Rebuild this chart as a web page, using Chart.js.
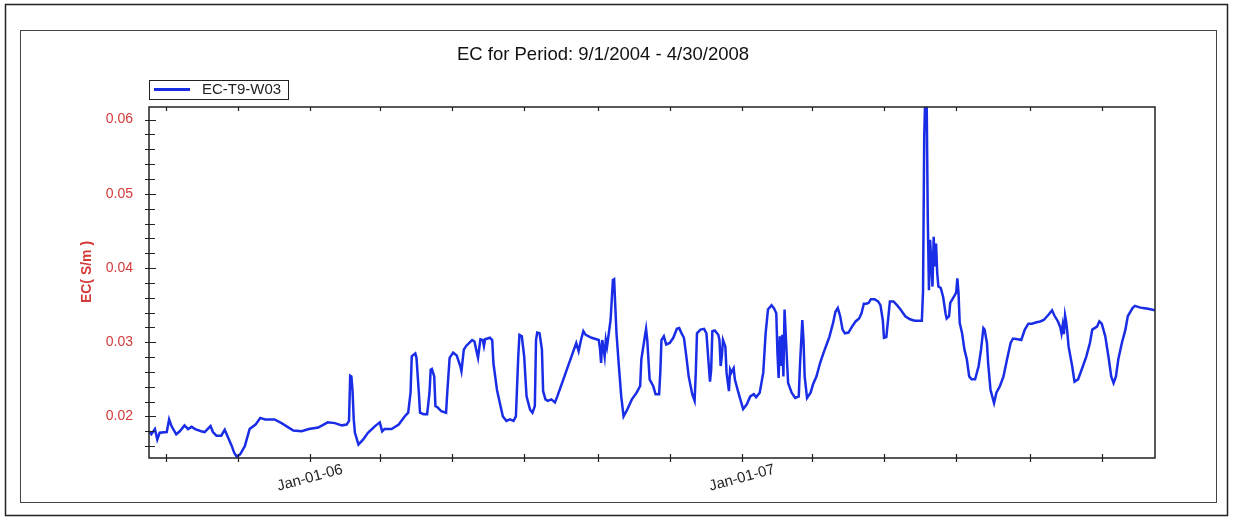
<!DOCTYPE html>
<html>
<head>
<meta charset="utf-8">
<script src="https://cdn.jsdelivr.net/npm/chart.js@4.4.0/dist/chart.umd.min.js"></script>
<style>
html, body { margin: 0; padding: 0; background: #fff; }
#wrap { width: 1233px; height: 520px; position: relative; }
</style>
</head>
<body>
<div id="wrap"><canvas id="ecChart"></canvas></div>
<script>
// days are counted from Jan-01-06
const days = [
  -136, -134, -131, -129, -127, -121, -119, -117, -113, -110, -106, -103, -100, -97, -92, -89,
  -84, -82, -79, -75, -72, -69, -66, -64, -62, -59, -55, -51, -46, -42, -38, -30, -24, -18,
  -14, -7, -1, 7, 15, 21, 27, 31, 33, 34, 35, 36, 37, 38, 41, 45, 49, 55, 59, 61, 63, 69, 75, 80,
  83, 85, 86, 89, 90, 92, 93, 96, 99, 101, 102, 103, 105, 106, 108, 111, 115, 116, 118, 121,
  124, 127, 128, 130, 132, 137, 139, 141, 142, 144, 146, 147, 148, 152, 154, 155, 158, 161,
  163, 166, 169, 172, 174, 176, 177, 179, 181, 183, 186, 188, 190, 191, 192, 194, 196, 197,
  199, 201, 204, 207, 209, 213, 217, 221, 225, 227, 229, 231, 233, 238, 244, 245, 246, 247,
  249, 250, 251, 252, 254, 255, 256, 257, 258, 259, 261, 263, 265, 268, 272, 276, 279, 280,
  283, 284, 285, 287, 290, 292, 295, 296, 297, 299, 301, 304, 307, 310, 312, 314, 316, 318,
  320, 323, 325, 326, 327, 330, 333, 335, 337, 338, 339, 340, 342, 345, 346, 347, 348, 349,
  351, 352, 354, 355, 356, 358, 359, 362, 366, 369, 372, 375, 377, 380, 383, 385, 387, 390,
  392, 394, 395, 396, 397, 398, 399, 400, 401, 403, 404, 407, 410, 413, 414, 416, 417, 418,
  420, 423, 425, 428, 431, 434, 437, 439, 442, 444, 446, 448, 450, 452, 455, 458, 461, 464,
  466, 468, 470, 472, 474, 477, 480, 482, 484, 485, 487, 489, 490, 493, 496, 499, 503, 507,
  511, 517, 518, 519, 520, 521, 522, 523, 524, 525, 526, 527, 528, 529, 530, 531, 533, 535,
  537, 538, 540, 541, 544, 546, 547, 548, 549, 551, 553, 555, 557, 559, 562, 565, 567, 569,
  570, 572, 573, 575, 578, 580, 583, 586, 589, 592, 594, 598, 601, 604, 607, 610, 614, 617,
  620, 624, 627, 629, 632, 634, 635, 636, 637, 638, 639, 640, 641, 644, 646, 649, 652, 656,
  659, 661, 665, 667, 669, 672, 675, 677, 679, 681, 683, 686, 689, 691, 695, 697, 701, 704,
  708, 711, 714
];
const ec = [
  0.0180, 0.0176, 0.0183, 0.0169, 0.0178, 0.0179, 0.0196, 0.0187, 0.0176, 0.0180, 0.0188, 0.0183, 0.0186, 0.0183, 0.0180, 0.0179,
  0.0187, 0.0179, 0.0174, 0.0174, 0.0182, 0.0171, 0.0160, 0.0151, 0.0146, 0.0149, 0.0160, 0.0183, 0.0189, 0.0198, 0.0196, 0.0196, 0.0191, 0.0185,
  0.0181, 0.0180, 0.0183, 0.0185, 0.0192, 0.0191, 0.0188, 0.0189, 0.0194, 0.0255, 0.0254, 0.0234, 0.0196, 0.0178, 0.0162, 0.0169, 0.0178, 0.0187, 0.0192, 0.0180, 0.0183, 0.0183, 0.0189, 0.0200,
  0.0205, 0.0232, 0.0281, 0.0285, 0.0279, 0.0232, 0.0205, 0.0203, 0.0203, 0.0232, 0.0263, 0.0264, 0.0254, 0.0214, 0.0212, 0.0207, 0.0205, 0.0232, 0.0279, 0.0286,
  0.0282, 0.0268, 0.0261, 0.0290, 0.0295, 0.0303, 0.0301, 0.0286, 0.0279, 0.0304, 0.0303, 0.0295, 0.0304, 0.0306, 0.0303, 0.0272, 0.0236, 0.0214,
  0.0200, 0.0194, 0.0196, 0.0194, 0.0200, 0.0281, 0.0310, 0.0308, 0.0281, 0.0227, 0.0209, 0.0205, 0.0214, 0.0303, 0.0313, 0.0312, 0.0290, 0.0234,
  0.0223, 0.0221, 0.0223, 0.0219, 0.0227, 0.0245, 0.0263, 0.0281, 0.0299, 0.0288, 0.0303, 0.0315, 0.0310, 0.0306, 0.0303, 0.0292, 0.0272, 0.0303,
  0.0281, 0.0303, 0.0294, 0.0306, 0.0330, 0.0357, 0.0384, 0.0385, 0.0348, 0.0312, 0.0268, 0.0227, 0.0200, 0.0209, 0.0223, 0.0232, 0.0241, 0.0277,
  0.0308, 0.0318, 0.0303, 0.0250, 0.0241, 0.0230, 0.0230, 0.0259, 0.0303, 0.0308, 0.0297, 0.0299, 0.0306, 0.0318, 0.0319, 0.0312, 0.0306, 0.0281,
  0.0254, 0.0230, 0.0221, 0.0259, 0.0312, 0.0317, 0.0318, 0.0312, 0.0268, 0.0247, 0.0263, 0.0315, 0.0316, 0.0310, 0.0303, 0.0268, 0.0281, 0.0303,
  0.0294, 0.0259, 0.0234, 0.0263, 0.0259, 0.0265, 0.0250, 0.0232, 0.0210, 0.0216, 0.0227, 0.0230, 0.0226, 0.0232, 0.0259, 0.0312, 0.0344, 0.0350,
  0.0346, 0.0339, 0.0286, 0.0252, 0.0308, 0.0268, 0.0310, 0.0254, 0.0344, 0.0277, 0.0245, 0.0232, 0.0225, 0.0227, 0.0268, 0.0330, 0.0303, 0.0254,
  0.0225, 0.0232, 0.0243, 0.0254, 0.0272, 0.0286, 0.0299, 0.0308, 0.0326, 0.0341, 0.0346, 0.0335, 0.0317, 0.0312, 0.0313, 0.0321, 0.0328, 0.0332,
  0.0339, 0.0352, 0.0352, 0.0353, 0.0358, 0.0358, 0.0355, 0.0350, 0.0330, 0.0306, 0.0307, 0.0339, 0.0355, 0.0355, 0.0350, 0.0344, 0.0335, 0.0331,
  0.0329, 0.0329, 0.0368, 0.0576, 0.0640, 0.0640, 0.0469, 0.0370, 0.0438, 0.0406, 0.0375, 0.0442, 0.0402, 0.0433, 0.0393, 0.0375, 0.0373, 0.0361,
  0.0339, 0.0332, 0.0335, 0.0353, 0.0361, 0.0367, 0.0386, 0.0366, 0.0326, 0.0312, 0.0290, 0.0277, 0.0254, 0.0250, 0.0250, 0.0268, 0.0290, 0.0319,
  0.0317, 0.0299, 0.0272, 0.0236, 0.0218, 0.0232, 0.0241, 0.0254, 0.0277, 0.0299, 0.0305, 0.0304, 0.0303, 0.0317, 0.0325, 0.0325, 0.0327, 0.0328,
  0.0330, 0.0337, 0.0343, 0.0336, 0.0328, 0.0320, 0.0312, 0.0323, 0.0311, 0.0336, 0.0327, 0.0312, 0.0294, 0.0268, 0.0247, 0.0250, 0.0263, 0.0281,
  0.0299, 0.0317, 0.0321, 0.0328, 0.0325, 0.0308, 0.0277, 0.0254, 0.0245, 0.0254, 0.0277, 0.0299, 0.0317, 0.0335, 0.0346, 0.0349, 0.0347, 0.0346,
  0.0345, 0.0344, 0.0343
];
const yTicks = [0.02, 0.03, 0.04, 0.05, 0.06];
const xTickDates = ['2005-09-01', '2005-11-01', '2006-01-01', '2006-03-01', '2006-05-01', '2006-07-01', '2006-09-01',
  '2006-11-01', '2007-01-01', '2007-03-01', '2007-05-01', '2007-07-01', '2007-09-01', '2007-11-01'];
const xLabelDates = ['2006-01-01', '2007-01-01'];
const xLabels = ['Jan-01-06', 'Jan-01-07'];

const seriesName = 'EC-T9-W03';
const titleText = 'EC for Period: 9/1/2004 - 4/30/2008';
const yTitle = 'EC( S/m )';

const lineColor = '#1a2de6';
const red = '#d43a3a';
const font = '"Liberation Sans", Arial, sans-serif';

function dayOf(s) {
  const [y, m, d] = s.split('-').map(Number);
  return (Date.UTC(y, m - 1, d) - Date.UTC(2006, 0, 1)) / 86400000;
}

const decor = {
  id: 'decor',
  beforeDraw(chart) {
    const ctx = chart.ctx;
    ctx.save();
    ctx.fillStyle = '#fff';
    ctx.fillRect(0, 0, chart.width, chart.height);
    ctx.strokeStyle = '#222';
    ctx.lineWidth = 1.5;
    ctx.strokeRect(5.5, 4.5, 1222, 511);
    ctx.lineWidth = 1;
    ctx.strokeStyle = '#444';
    ctx.strokeRect(20.5, 30.5, 1196, 472);

    ctx.fillStyle = '#111';
    ctx.font = '18.5px ' + font;
    ctx.textAlign = 'center';
    ctx.textBaseline = 'middle';
    ctx.fillText(titleText, 603, 55);

    // legend box
    ctx.strokeStyle = '#222';
    ctx.strokeRect(149.5, 80.5, 139, 19);
    ctx.strokeStyle = lineColor;
    ctx.lineWidth = 3;
    ctx.beginPath();
    ctx.moveTo(154, 89.5);
    ctx.lineTo(190, 89.5);
    ctx.stroke();
    ctx.fillStyle = '#222';
    ctx.font = '15px ' + font;
    ctx.textAlign = 'left';
    ctx.fillText(seriesName, 202, 90);
    ctx.restore();
  },
  afterDraw(chart) {
    const ctx = chart.ctx;
    const a = chart.chartArea;
    const xs = chart.scales.x, ys = chart.scales.y;
    ctx.save();
    ctx.strokeStyle = '#222';
    ctx.lineWidth = 1.5;
    ctx.strokeRect(a.left, a.top, a.right - a.left, a.bottom - a.top);

    ctx.lineWidth = 1.2;
    ctx.beginPath();
    ys.ticks.forEach(t => {
      if (t.value < ys.min || t.value > ys.max) return;
      const py = Math.round(ys.getPixelForValue(t.value)) + 0.5;
      const major = yTicks.some(v => Math.abs(v - t.value) < 1e-7);
      ctx.moveTo(a.left - 4, py);
      ctx.lineTo(a.left + (major ? 7 : 6), py);
    });
    xTickDates.forEach(d => {
      const px = Math.round(xs.getPixelForValue(dayOf(d))) + 0.5;
      ctx.moveTo(px, a.bottom - 4);
      ctx.lineTo(px, a.bottom + 4);
      ctx.moveTo(px, a.top);
      ctx.lineTo(px, a.top + 4);
    });
    ctx.stroke();

    ctx.fillStyle = '#222';
    ctx.font = '15px ' + font;
    ctx.textAlign = 'center';
    ctx.textBaseline = 'middle';
    xLabelDates.forEach((d, i) => {
      const px = xs.getPixelForValue(dayOf(d));
      ctx.save();
      ctx.translate(px, 478);
      ctx.rotate(-15 * Math.PI / 180);
      ctx.fillText(xLabels[i], 0, 0);
      ctx.restore();
    });

    ctx.fillStyle = red;
    ctx.font = 'bold 14px ' + font;
    ctx.translate(87, 272);
    ctx.rotate(-Math.PI / 2);
    ctx.fillText(yTitle, 0, 0);
    ctx.restore();
  }
};

new Chart(document.getElementById('ecChart'), {
  type: 'line',
  data: {
    datasets: [{
      label: seriesName,
      data: days.map((d, i) => ({ x: d, y: ec[i] })),
      borderColor: lineColor,
      borderWidth: 2.5,
      pointRadius: 0,
      tension: 0,
      fill: false
    }]
  },
  options: {
    responsive: true,
    maintainAspectRatio: false,
    animation: false,
    layout: { padding: { top: 107, right: 78, bottom: 62, left: 0 } },
    plugins: { legend: { display: false }, tooltip: { enabled: false } },
    scales: {
      x: {
        type: 'linear',
        display: false,
        min: -136,
        max: 714
      },
      y: {
        min: 0.0144,
        max: 0.0617,
        afterFit(scale) { scale.width = 149; },
        grid: { display: false, drawTicks: false },
        border: { display: false },
        ticks: {
          stepSize: 0.002,
          includeBounds: false,
          autoSkip: false,
          padding: 16,
          color: red,
          font: { family: font, size: 14 },
          callback: v => yTicks.some(t => Math.abs(t - v) < 1e-7) ? v.toFixed(2) : ''
        }
      }
    }
  },
  plugins: [decor]
});
</script>
</body>
</html>
